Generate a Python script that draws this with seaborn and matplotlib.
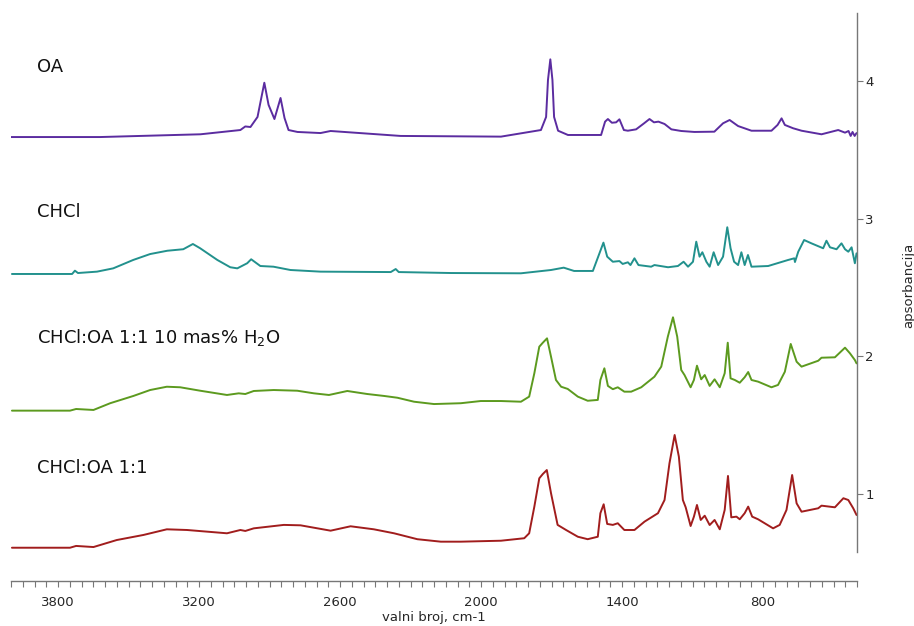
import numpy as np
import pandas as pd
import matplotlib
matplotlib.use("Agg")
import matplotlib.pyplot as plt
from matplotlib.ticker import FixedLocator, MultipleLocator
import seaborn as sns

# Spectra (wavenumber in cm-1, absorbance with offsets)
oa_wn = [4000, 3621, 3194, 3024, 3003, 2981, 2951, 2922, 2904, 2879, 2853, 2836,
         2819, 2781, 2683, 2640, 2342, 1915, 1745, 1723, 1715, 1705, 1696, 1689,
         1672, 1630, 1489, 1472, 1460, 1443, 1425, 1411, 1392, 1375, 1340, 1306,
         1283, 1264, 1245, 1219, 1190, 1148, 1092, 1007, 970, 942, 906, 849, 764,
         738, 721, 707, 672, 636, 551, 480, 451, 436, 427, 419, 410, 402]
oa_abs = [3.596, 3.596, 3.616, 3.647, 3.673, 3.669, 3.742, 3.991, 3.830, 3.727,
          3.880, 3.734, 3.647, 3.633, 3.625, 3.640, 3.604, 3.599, 3.647, 3.742,
          4.011, 4.161, 4.011, 3.742, 3.642, 3.611, 3.611, 3.708, 3.727, 3.700,
          3.703, 3.725, 3.647, 3.642, 3.652, 3.696, 3.727, 3.703, 3.708, 3.691,
          3.652, 3.640, 3.633, 3.635, 3.696, 3.720, 3.676, 3.642, 3.642, 3.684,
          3.732, 3.684, 3.660, 3.642, 3.616, 3.647, 3.628, 3.640, 3.604, 3.633,
          3.604, 3.625]

chcl_wn = [3996, 3740, 3728, 3715, 3634, 3565, 3480, 3408, 3335, 3267, 3226, 3195,
           3122, 3067, 3037, 2995, 2978, 2939, 2883, 2811, 2683, 2384, 2363, 2350,
           2128, 1830, 1702, 1648, 1604, 1524, 1496, 1479, 1463, 1439, 1411, 1397,
           1375, 1364, 1347, 1330, 1276, 1262, 1204, 1162, 1138, 1119, 1098, 1084,
           1070, 1058, 1041, 1027, 1010, 991, 970, 952, 938, 923, 906, 892, 878,
           864, 849, 778, 693, 667, 664, 650, 625, 594, 544, 530, 515, 487, 466,
           451, 437, 423, 409, 402]
chcl_abs = [2.600, 2.600, 2.624, 2.607, 2.617, 2.641, 2.702, 2.745, 2.769, 2.780,
            2.818, 2.787, 2.702, 2.649, 2.641, 2.678, 2.707, 2.658, 2.653, 2.629,
            2.617, 2.614, 2.636, 2.614, 2.607, 2.605, 2.629, 2.646, 2.622, 2.622,
            2.750, 2.828, 2.726, 2.689, 2.694, 2.673, 2.685, 2.665, 2.714, 2.665,
            2.653, 2.665, 2.649, 2.658, 2.689, 2.653, 2.689, 2.835, 2.726, 2.758,
            2.689, 2.653, 2.758, 2.665, 2.726, 2.940, 2.787, 2.689, 2.665, 2.758,
            2.665, 2.738, 2.653, 2.658, 2.702, 2.714, 2.687, 2.762, 2.847, 2.823,
            2.787, 2.842, 2.794, 2.780, 2.823, 2.780, 2.762, 2.794, 2.678, 2.750]

wat_wn = [3996, 3749, 3723, 3649, 3578, 3479, 3408, 3337, 3280, 3195, 3081, 3031,
          3003, 2967, 2882, 2782, 2711, 2647, 2569, 2484, 2413, 2356, 2285, 2200,
          2086, 2001, 1915, 1830, 1795, 1773, 1752, 1737, 1719, 1702, 1681, 1659,
          1631, 1588, 1546, 1503, 1492, 1475, 1460, 1439, 1418, 1390, 1361, 1318,
          1262, 1233, 1205, 1183, 1165, 1148, 1134, 1108, 1094, 1081, 1063, 1048,
          1027, 1006, 984, 963, 950, 938, 920, 899, 878, 863, 849, 821, 764, 736,
          707, 682, 657, 636, 565, 551, 494, 451, 430, 409, 402]
wat_abs = [1.606, 1.606, 1.618, 1.611, 1.660, 1.713, 1.756, 1.780, 1.776, 1.751,
           1.720, 1.732, 1.727, 1.749, 1.756, 1.751, 1.732, 1.720, 1.749, 1.727,
           1.713, 1.700, 1.671, 1.654, 1.660, 1.676, 1.676, 1.671, 1.708, 1.878,
           2.071, 2.100, 2.132, 1.998, 1.829, 1.780, 1.764, 1.708, 1.678, 1.684,
           1.829, 1.914, 1.786, 1.762, 1.776, 1.744, 1.744, 1.776, 1.853, 1.926,
           2.144, 2.285, 2.144, 1.902, 1.865, 1.776, 1.829, 1.933, 1.834, 1.865,
           1.786, 1.834, 1.776, 1.878, 2.100, 1.841, 1.829, 1.809, 1.849, 1.887,
           1.829, 1.817, 1.776, 1.793, 1.889, 2.091, 1.962, 1.926, 1.969, 1.991,
           1.994, 2.064, 2.023, 1.974, 1.950]

mix_wn = [3996, 3749, 3723, 3649, 3550, 3436, 3337, 3251, 3081, 3024, 3003, 2967,
          2839, 2768, 2640, 2555, 2456, 2370, 2271, 2171, 2086, 1915, 1816, 1795,
          1773, 1752, 1737, 1720, 1702, 1674, 1638, 1588, 1546, 1503, 1492, 1478,
          1463, 1439, 1418, 1390, 1347, 1304, 1247, 1219, 1198, 1176, 1158, 1141,
          1129, 1108, 1094, 1081, 1065, 1048, 1027, 1006, 984, 963, 949, 935, 913,
          899, 878, 863, 846, 821, 757, 729, 700, 676, 657, 636, 565, 551, 494,
          458, 437, 416, 402]
mix_abs = [0.609, 0.609, 0.622, 0.614, 0.665, 0.702, 0.743, 0.738, 0.714, 0.738,
           0.731, 0.750, 0.775, 0.772, 0.733, 0.765, 0.743, 0.714, 0.671, 0.653,
           0.653, 0.660, 0.678, 0.714, 0.908, 1.114, 1.145, 1.174, 1.005, 0.775,
           0.738, 0.689, 0.671, 0.689, 0.860, 0.925, 0.782, 0.775, 0.787, 0.738,
           0.738, 0.799, 0.860, 0.956, 1.223, 1.429, 1.271, 0.956, 0.903, 0.767,
           0.835, 0.920, 0.811, 0.842, 0.774, 0.811, 0.743, 0.884, 1.131, 0.830,
           0.835, 0.816, 0.860, 0.908, 0.835, 0.816, 0.750, 0.775, 0.884, 1.138,
           0.932, 0.871, 0.896, 0.915, 0.903, 0.969, 0.956, 0.896, 0.847]

labels = ["OA", "CHCl", r"CHCl:OA 1:1 10 mas% H$_2$O", "CHCl:OA 1:1"]
colors = ["#5b2ca0", "#22918d", "#5c9a1f", "#a11d1d"]
label_y = [4.069, 3.015, 2.096, 1.150]

sns.set_theme(style="white")
plt.rcParams["font.family"] = ["DejaVu Sans"]

fig = plt.figure(figsize=(9.14, 6.26), dpi=100)
ax = fig.add_axes([11 / 914, 45 / 626, 846 / 914, 571 / 626])

series = [(oa_wn, oa_abs), (chcl_wn, chcl_abs), (wat_wn, wat_abs), (mix_wn, mix_abs)]
for (wn, ab), col in zip(series, colors):
    df = pd.DataFrame({"wn": wn, "abs": ab})
    sns.lineplot(data=df, x="wn", y="abs", color=col, linewidth=1.4,
                 sort=False, estimator=None, ax=ax)

for lab, y in zip(labels, label_y):
    ax.text(3890, y, lab, fontsize=13, ha="left", va="baseline", color="#111111")

ax.set_xlim(4000, 400)
ax.set_ylim(0.367, 4.52)

ax.yaxis.tick_right()
ax.yaxis.set_label_position("right")
ax.spines["left"].set_visible(False)
ax.spines["top"].set_visible(False)
for s in ["right", "bottom"]:
    ax.spines[s].set_color("#777777")
    ax.spines[s].set_linewidth(1.0)
ax.spines["right"].set_bounds(0.58, 4.5)

ax.xaxis.set_major_locator(FixedLocator([3800, 3200, 2600, 2000, 1400, 800]))
ax.xaxis.set_minor_locator(MultipleLocator(50))
ax.yaxis.set_major_locator(FixedLocator([1, 2, 3, 4]))
ax.tick_params(axis="x", which="both", direction="out", length=4, width=0.8,
               color="#777777", labelsize=9.5, pad=7, bottom=True)
ax.tick_params(axis="y", which="major", direction="out", length=4, width=0.8,
               color="#777777", labelsize=9.5, pad=2, right=True, left=False)

ax.set_xlabel("valni broj, cm-1", fontsize=9.5, labelpad=1)
ax.set_ylabel("apsorbancija", fontsize=9.5, rotation=90)
ax.yaxis.set_label_coords(1.054, 0.518)

fig.savefig("out.png", dpi=100)
